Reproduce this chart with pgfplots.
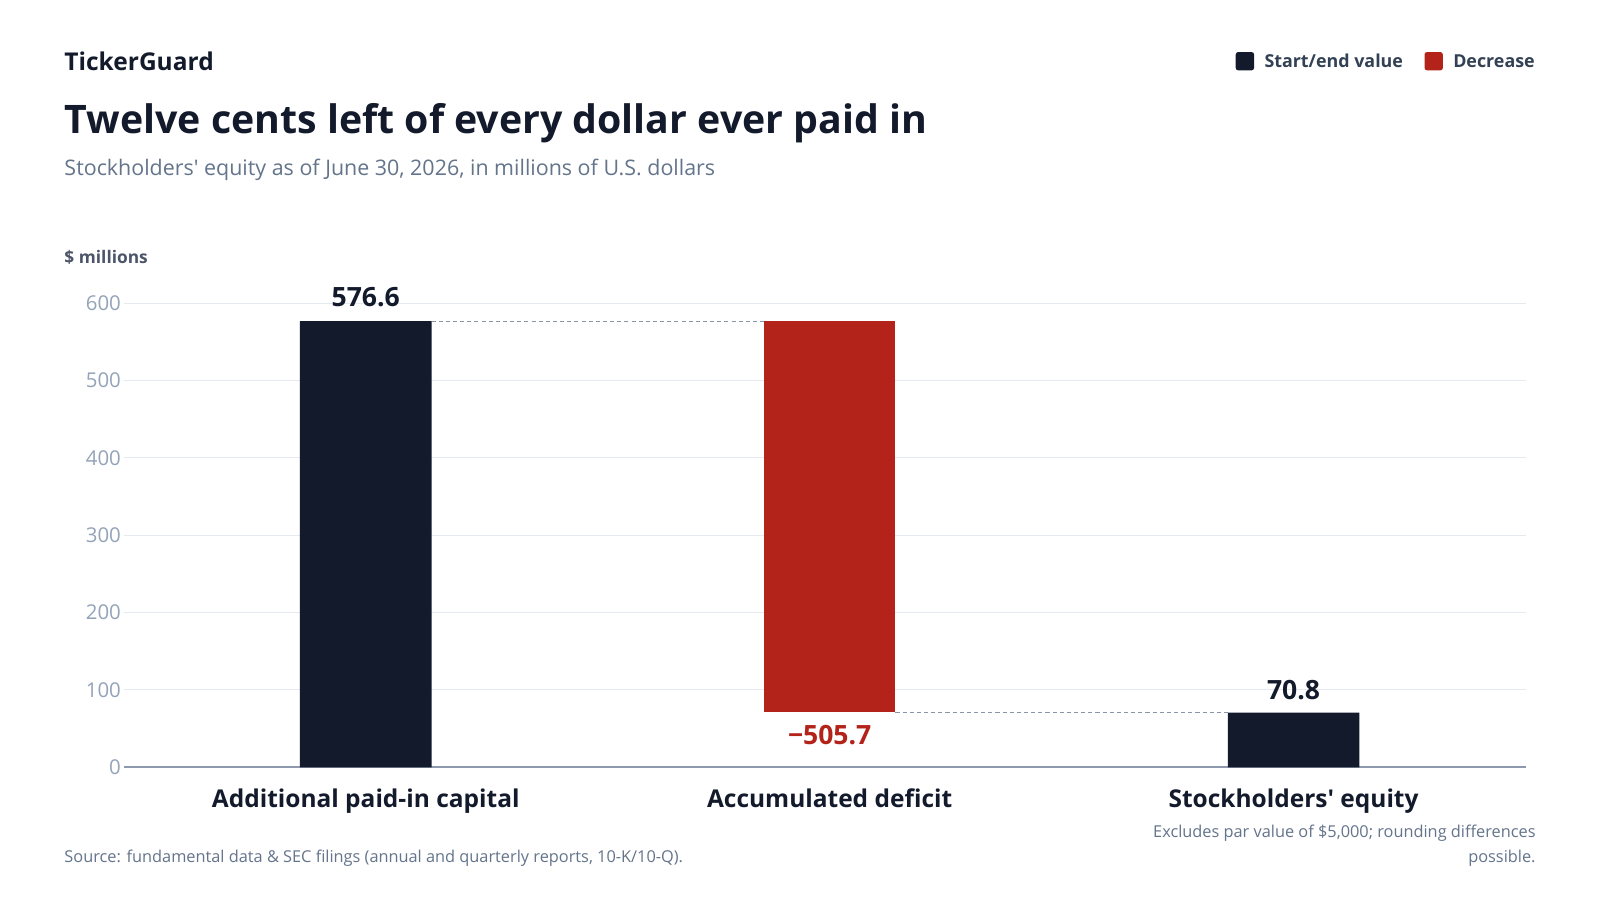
\documentclass[border=0pt]{standalone}
\usepackage{pgfplots}
\pgfplotsset{compat=1.18}
\usepackage{fontspec}
\setmainfont{Open Sans}[Ligatures=TeXOff]
\definecolor{darkbar}{HTML}{131A2B}
\definecolor{redbar}{HTML}{B3231A}
\definecolor{subc}{HTML}{64748B}
\definecolor{tickc}{HTML}{94A3B8}
\definecolor{basec}{HTML}{8E99AD}
\definecolor{gridc}{HTML}{E5E9F0}
\definecolor{legc}{HTML}{334155}
\definecolor{unitc}{HTML}{4B5567}
\definecolor{connc}{HTML}{8B93A7}
\newcommand{\fs}[1]{\fontsize{#1}{#1}\selectfont}
\begin{document}
\begin{tikzpicture}[x=1pt,y=1pt]
\path[fill=white,use as bounding box] (0,0) rectangle (1568,882);
% header
\node[anchor=base west,inner sep=0,text=darkbar] at (63,813) {\fs{24}\bfseries TickerGuard};
\node[anchor=base west,inner sep=0,text=darkbar] at (63,751) {\fs{38.5}\bfseries Twelve cents left of every dollar ever paid in};
\node[anchor=base west,inner sep=0,text=subc] at (63,710) {\fs{21}Stockholders' equity as of June 30, 2026, in millions of U.S. dollars};
\node[anchor=base west,inner sep=0,text=unitc] at (63,624) {\fs{17}\bfseries \$ millions};
% legend
\fill[darkbar,rounded corners=2.5pt] (1211,813) rectangle (1229,831);
\node[anchor=base west,inner sep=0,text=legc] at (1239,816) {\fs{17.5}\bfseries Start/end value};
\fill[redbar,rounded corners=2.5pt] (1396,813) rectangle (1414,831);
\node[anchor=base west,inner sep=0,text=legc] at (1424,816) {\fs{17.5}\bfseries Decrease};
% footer
\node[anchor=base west,inner sep=0,text=subc] at (63,37) {\fs{16}Source: fundamental data \& SEC filings (annual and quarterly reports, 10-K/10-Q).};
\node[anchor=base east,inner sep=0,text=subc] at (1505,61) {\fs{16}Excludes par value of \$5,000; rounding differences};
\node[anchor=base east,inner sep=0,text=subc] at (1505,37) {\fs{16}possible.};
\begin{axis}[
  at={(122pt,130pt)}, anchor=south west,
  width=1373pt, height=455pt, scale only axis,
  xmin=-0.52, xmax=2.5, ymin=0, ymax=600,
  clip=false,
  axis line style={draw=none},
  tick style={draw=none},
  ytick={0,100,...,600},
  ymajorgrids,
  grid style={color=gridc, line width=1pt},
  /pgf/number format/assume math mode=true,
  yticklabel style={font=\fs{20}, text=tickc},
  xtick={0,1,2},
  xticklabels={Additional paid-in capital, Accumulated deficit, Stockholders' equity},
  xticklabel style={font=\fs{24}\bfseries, text=darkbar, anchor=base, yshift=-39pt},
  ybar stacked,
  bar width=129pt,
]
\addplot[fill=none, draw=none] coordinates {(0,0) (1,70.9) (2,0)};
\addplot[fill=darkbar, draw=none] coordinates {(0,576.6) (1,0) (2,70.8)};
\addplot[fill=redbar, draw=none] coordinates {(0,0) (1,505.7) (2,0)};
\addplot[sharp plot, stack plots=false, draw=connc, line width=1.2pt, dash pattern=on 4pt off 3pt] coordinates {(0.1418,576.6) (0.8582,576.6)};
\addplot[sharp plot, stack plots=false, draw=connc, line width=1.2pt, dash pattern=on 4pt off 3pt] coordinates {(1.1418,70.9) (1.8582,70.9)};
\addplot[sharp plot, stack plots=false, draw=basec, line width=2pt] coordinates {(-0.52,0) (2.5,0)};
\node[anchor=base, text=darkbar, font=\fs{26}\bfseries, yshift=14pt] at (axis cs:0,576.6) {576.6};
\node[anchor=base, text=redbar, font=\fs{26}\bfseries, yshift=-31pt] at (axis cs:1,70.9) {\char"2212 505.7};
\node[anchor=base, text=darkbar, font=\fs{26}\bfseries, yshift=13pt] at (axis cs:2,70.8) {70.8};
\end{axis}
\end{tikzpicture}
\end{document}
